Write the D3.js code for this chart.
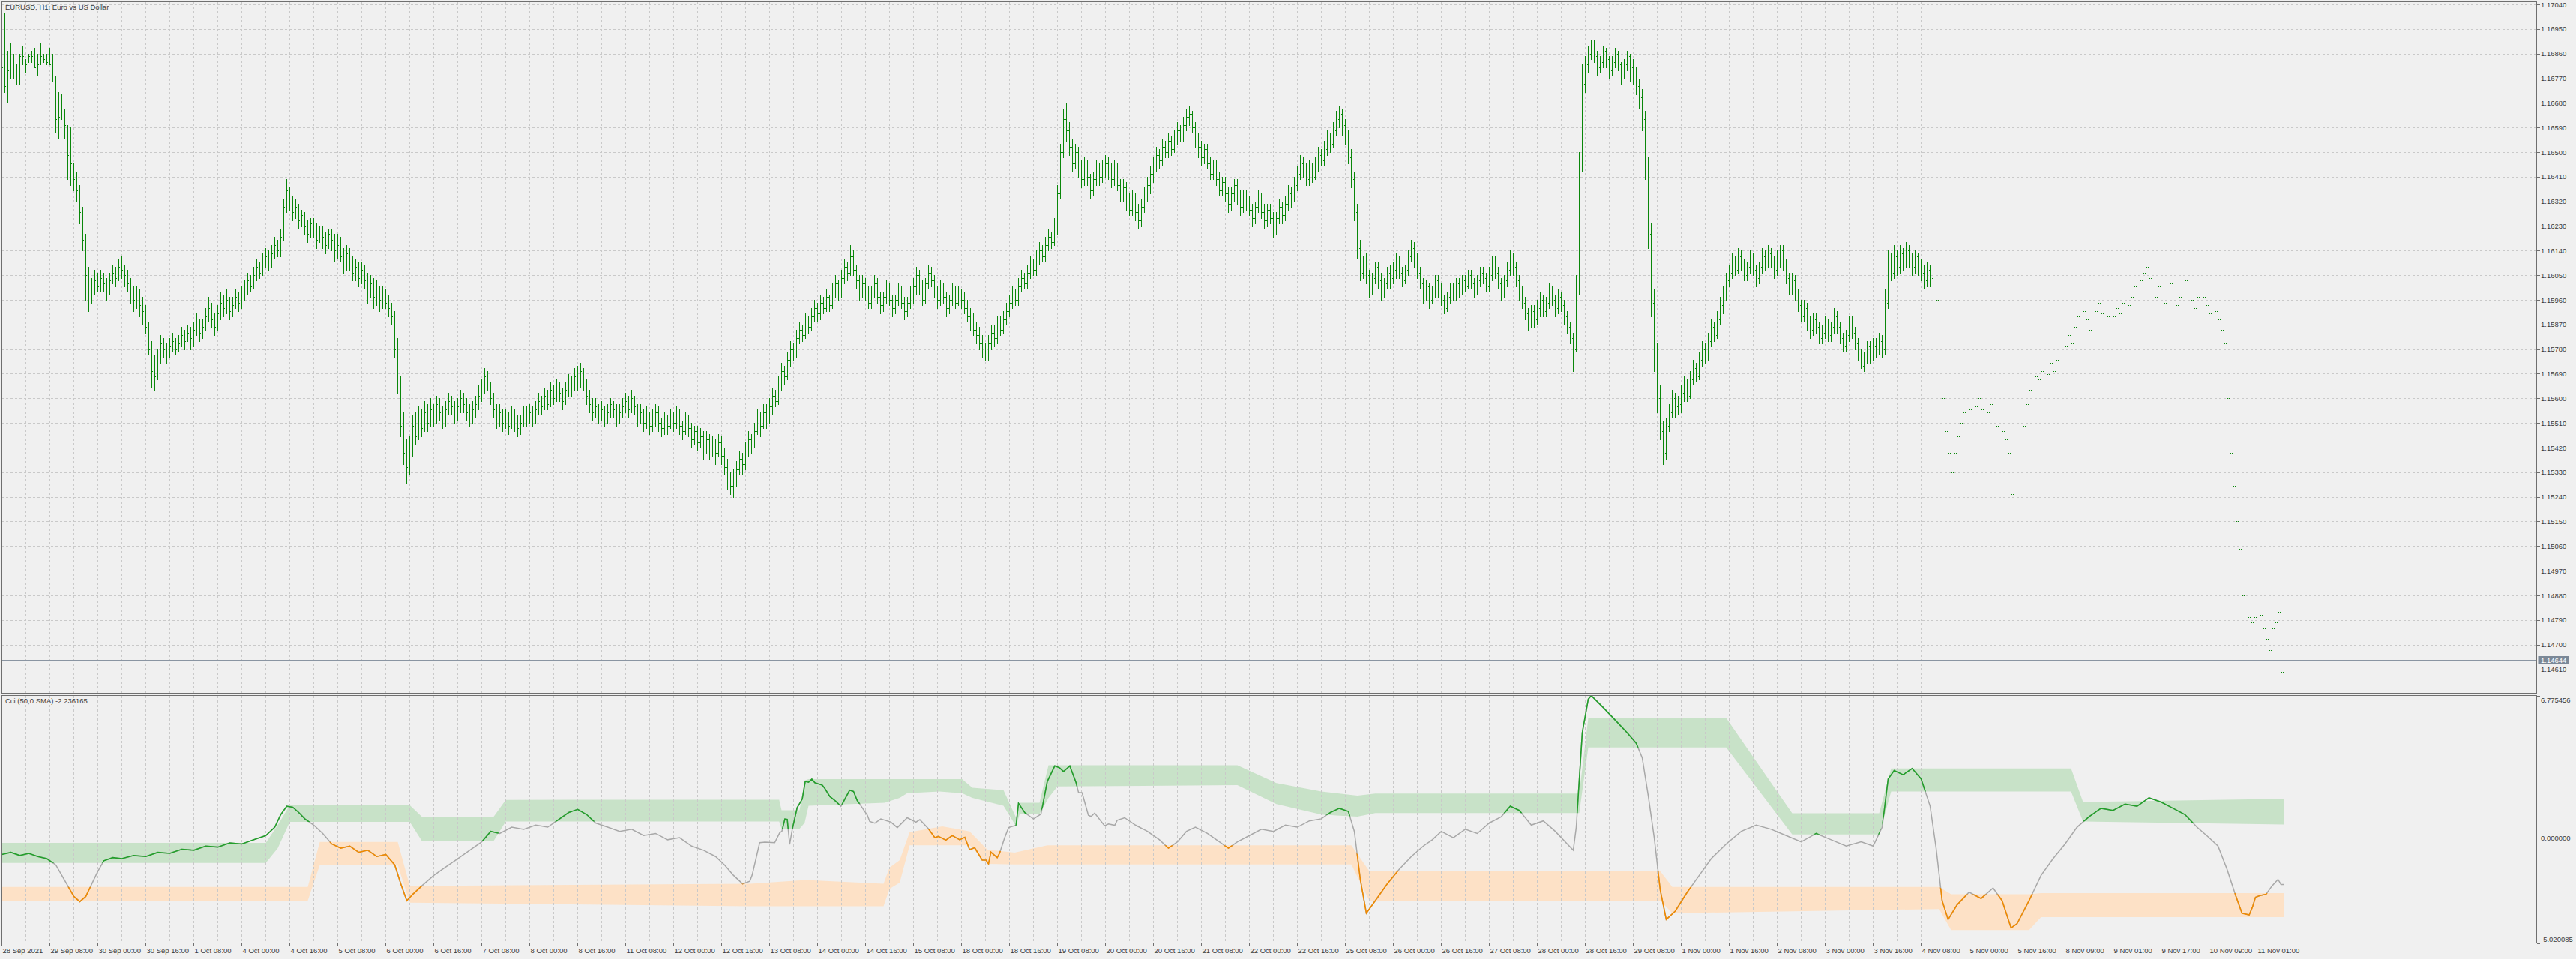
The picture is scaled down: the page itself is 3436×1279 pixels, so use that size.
<!DOCTYPE html>
<html><head><meta charset="utf-8">
<script src="https://cdn.jsdelivr.net/npm/d3@7"></script>
<style>
html,body{margin:0;padding:0;background:#f0f0f0;}
svg{display:block;}
text{font-family:"Liberation Sans",Arial,sans-serif;font-size:9.5px;fill:#3c3c3c;}
</style></head><body>
<svg id="chart" width="3436" height="1279"></svg>
<script>
const chartTitle = "EURUSD, H1:  Euro vs US Dollar";
const cciTitle = "Cci (50,0 SMA) -2.236165";
const BASE = 1.14; // prices below are in pips above 1.14000
const lastPrice = 1.14644;
const priceTicks = [1.17040,1.16950,1.16860,1.16770,1.16680,1.16590,1.16500,1.16410,1.16320,1.16230,1.16140,1.16050,1.15960,1.15870,1.15780,1.15690,1.15600,1.15510,1.15420,1.15330,1.15240,1.15150,1.15060,1.14970,1.14880,1.14790,1.14700,1.14610];
const cciTicks = [6.775456, 0, -5.020085];
const timeLabels = ["28 Sep 2021","29 Sep 08:00","30 Sep 00:00","30 Sep 16:00","1 Oct 08:00","4 Oct 00:00","4 Oct 16:00","5 Oct 08:00","6 Oct 00:00","6 Oct 16:00","7 Oct 08:00","8 Oct 00:00","8 Oct 16:00","11 Oct 08:00","12 Oct 00:00","12 Oct 16:00","13 Oct 08:00","14 Oct 00:00","14 Oct 16:00","15 Oct 08:00","18 Oct 00:00","18 Oct 16:00","19 Oct 08:00","20 Oct 00:00","20 Oct 16:00","21 Oct 08:00","22 Oct 00:00","22 Oct 16:00","25 Oct 08:00","26 Oct 00:00","26 Oct 16:00","27 Oct 08:00","28 Oct 00:00","28 Oct 16:00","29 Oct 08:00","1 Nov 00:00","1 Nov 16:00","2 Nov 08:00","3 Nov 00:00","3 Nov 16:00","4 Nov 08:00","5 Nov 00:00","5 Nov 16:00","8 Nov 09:00","9 Nov 01:00","9 Nov 17:00","10 Nov 09:00","11 Nov 01:00"];
const labelEvery = 16; // bars between time labels

const openP = [
284,281,274,280,277,279,278,285,285,282,285,285,281,282,285,284,
283,282,278,262,263,266,260,249,246,240,236,228,218,205,198,200,
203,201,204,202,199,203,206,204,208,207,205,202,199,196,198,194,
192,186,178,170,168,175,180,178,176,179,181,178,180,183,181,184,
182,185,188,184,186,190,193,189,186,191,195,193,196,192,194,197,
195,198,200,203,201,205,208,206,210,212,209,213,216,214,219,230,
236,232,228,230,225,227,223,220,224,222,218,221,219,216,220,218,
214,216,212,209,213,210,206,208,204,207,203,199,202,197,200,196,
198,195,193,190,178,165,150,140,135,142,150,146,153,149,155,151,
156,153,158,155,152,156,159,157,154,157,160,158,155,153,156,158,
161,164,168,165,160,156,152,155,151,153,150,154,152,149,151,154,
153,155,152,156,159,157,161,158,163,160,164,162,159,163,166,164,
168,166,170,165,161,158,155,157,154,156,153,155,158,156,153,155,
157,159,156,160,157,153,155,151,154,150,152,155,151,149,152,150,
153,151,154,150,148,152,149,145,148,144,146,142,145,141,143,140,
144,139,135,131,128,130,134,138,136,141,145,143,148,152,150,155,
153,157,161,159,165,170,168,174,178,176,182,185,183,188,186,190,
193,191,195,193,197,194,199,202,198,204,208,206,212,207,203,199,
202,198,195,199,202,197,194,197,200,196,193,196,199,195,192,195,
198,201,205,200,196,202,206,203,199,196,200,197,193,196,199,195,
198,196,193,190,188,185,183,180,177,176,180,184,182,187,185,189,
192,195,198,196,201,204,202,206,209,207,211,214,212,216,219,217,
222,235,250,262,258,252,246,250,244,240,245,241,236,240,244,241,
243,246,243,240,244,238,234,237,232,229,233,228,225,230,234,238,
242,245,249,247,252,250,254,251,255,258,256,260,263,264,259,255,
252,248,251,246,242,245,240,236,239,235,231,235,238,233,230,234,
232,229,226,230,233,228,225,229,226,222,226,230,227,231,235,233,
238,242,246,243,240,244,241,245,249,247,251,255,253,258,262,264,
260,255,248,240,228,215,206,210,205,200,204,208,203,199,202,206,
204,207,210,206,203,207,212,215,211,206,202,198,201,196,199,203,
200,196,193,197,200,198,202,199,203,201,205,202,199,203,206,204,
201,205,209,206,202,198,203,207,211,208,203,199,195,191,188,192,
189,193,196,192,195,199,196,193,197,194,190,186,182,178,200,245,
275,282,286,289,285,281,283,287,284,280,283,286,282,279,282,285,
281,278,274,270,262,245,220,195,175,160,148,140,150,155,160,157,
158,162,165,161,167,171,168,174,178,175,181,186,183,189,194,198,
203,206,210,207,212,209,205,208,211,207,204,208,212,209,213,210,
207,211,214,209,204,200,203,198,194,190,193,188,185,189,186,182,
184,187,183,186,190,186,182,179,183,187,184,180,176,172,175,179,
176,179,177,181,178,195,210,206,212,208,213,210,214,211,208,212,
209,206,203,207,204,200,196,175,160,148,140,133,140,146,151,155,
153,156,153,157,160,156,152,155,158,154,150,153,148,145,140,125,
118,130,142,150,158,163,166,168,167,170,166,169,173,170,174,177,
175,179,183,180,186,190,187,192,189,185,188,192,195,191,188,190,
187,190,193,191,195,198,194,197,201,199,203,206,208,204,200,197,
201,198,195,199,202,198,194,197,200,203,199,196,193,197,200,197,
194,191,188,192,189,185,180,160,140,128,115,105,88,85,80,78,
80,84,81,76,72,68,76,78,82,60];
const highP = [
290,301,287,290,286,282,286,289,284,286,287,288,286,290,286,286,
288,286,278,272,271,266,260,259,246,243,238,230,220,208,204,207,
206,207,206,204,206,209,208,211,212,209,207,204,201,201,200,197,
194,188,181,176,178,183,182,180,182,184,182,183,186,185,187,186,
188,191,189,189,193,197,195,191,194,199,198,200,197,197,200,199,
201,203,206,205,208,211,210,213,215,214,216,219,218,222,233,240,
237,234,233,231,229,228,225,226,226,224,223,223,221,222,222,220,
220,219,215,216,215,212,211,210,210,209,206,205,204,203,201,201,
200,198,195,192,182,168,155,145,146,154,155,157,156,159,158,160,
158,161,160,157,159,162,161,159,160,163,162,160,158,159,161,165,
167,171,170,166,162,158,158,156,156,155,157,156,154,154,157,157,
158,157,159,162,161,164,163,166,165,167,166,164,166,169,168,171,
172,173,171,167,163,160,160,158,159,157,158,160,159,158,158,160,
162,161,163,161,158,158,156,157,155,156,158,157,153,155,154,156,
155,157,156,152,155,154,151,150,150,149,148,148,147,146,145,147,
146,142,138,133,134,137,141,140,144,148,147,151,156,155,158,158,
160,164,163,168,173,172,177,181,180,185,188,187,191,190,193,196,
195,198,197,200,198,202,205,203,207,211,210,216,214,209,205,205,
204,201,201,205,204,199,199,203,202,198,198,202,201,197,197,201,
204,208,207,203,204,209,208,205,201,203,202,199,198,202,201,201,
200,199,196,193,191,188,186,183,180,183,187,187,190,190,192,195,
198,201,200,204,207,206,209,212,211,214,217,216,219,222,221,226,
238,253,266,268,261,255,253,252,247,248,247,242,243,247,246,247,
249,248,246,247,246,240,240,239,235,236,235,231,233,237,241,245,
248,252,251,255,254,257,256,258,261,260,263,266,267,265,261,257,
254,253,253,248,247,247,243,241,241,237,237,240,240,236,236,236,
234,231,232,236,235,231,231,231,228,228,233,232,234,238,237,241,
245,249,248,246,247,246,248,252,251,254,258,257,261,265,267,266,
262,258,251,243,231,218,212,213,207,206,210,210,206,204,208,209,
210,213,212,208,209,214,218,217,213,208,204,203,202,201,205,205,
202,198,199,202,202,204,204,205,205,207,207,204,205,208,208,206,
208,212,212,208,204,205,210,214,213,210,205,201,197,193,194,194,
196,199,198,197,202,201,198,200,199,196,192,188,184,205,250,282,
285,289,291,291,287,285,289,288,285,285,288,287,283,284,287,286,
284,281,277,273,265,248,224,200,180,165,152,153,158,163,162,161,
165,168,167,170,174,173,177,181,180,184,189,188,192,197,201,206,
209,213,212,215,214,211,210,214,213,209,210,215,214,216,215,212,
214,216,216,211,206,206,205,200,196,196,195,190,191,191,188,187,
190,189,188,193,192,188,184,185,190,190,186,182,178,177,181,181,
182,182,184,183,200,214,213,216,214,216,215,217,216,213,214,213,
211,209,210,209,206,202,198,180,163,152,143,143,149,154,158,158,
159,158,159,163,162,158,158,161,160,156,155,155,150,147,142,128,
133,146,153,161,166,169,171,170,173,172,171,176,175,177,180,179,
182,186,186,189,193,192,195,194,191,190,195,198,197,193,193,192,
193,196,195,198,201,200,199,204,203,206,209,211,210,206,202,204,
204,201,200,205,204,200,199,203,206,205,201,198,199,203,202,199,
196,194,194,194,192,187,182,162,143,132,118,108,90,88,81,82,
88,86,84,85,79,80,80,85,83,64.5];
const lowP = [
280,272,268,277,277,275,275,282,279,283,283,281,278,282,283,282,
282,276,257,255,262,255,240,238,236,232,224,214,196,192,195,198,
199,199,199,196,198,202,201,203,204,201,199,195,192,193,190,187,
184,176,164,163,167,173,175,173,175,177,176,177,179,178,181,178,
179,183,181,182,185,188,186,183,185,189,190,191,189,190,193,192,
193,196,198,199,200,203,204,205,208,207,208,211,212,212,218,228,
229,225,226,222,223,220,217,219,219,215,217,215,213,215,214,210,
211,210,206,207,207,203,203,201,202,200,195,197,193,194,192,193,
193,190,187,175,162,146,136,129,132,139,143,145,146,148,148,150,
150,151,152,149,150,154,154,151,152,155,155,152,150,151,153,156,
159,162,163,158,153,149,150,148,149,147,149,148,146,147,150,150,
151,150,151,154,154,156,156,157,158,159,159,156,158,161,161,163,
163,164,163,158,155,152,153,151,152,150,151,153,153,150,151,153,
155,153,155,154,150,151,148,149,147,148,150,148,146,147,147,149,
148,149,147,145,147,146,142,143,141,142,138,140,138,139,136,139,
136,132,127,125,124,128,132,132,134,139,140,142,147,146,149,149,
151,154,157,158,163,165,167,172,174,175,180,181,182,184,185,188,
188,189,191,192,192,193,197,196,197,202,203,205,205,200,196,197,
196,193,193,197,195,191,192,195,194,190,191,194,193,189,190,193,
195,198,198,194,195,200,201,197,193,194,195,190,191,194,193,194,
193,191,188,185,183,180,178,175,174,174,178,179,180,183,184,187,
190,193,194,194,199,200,200,204,205,205,209,210,210,214,215,216,
220,233,248,254,249,243,244,241,237,238,238,233,234,238,238,239,
241,240,237,238,236,232,232,229,227,227,225,222,223,228,232,235,
239,243,244,245,248,248,249,250,253,254,254,258,260,257,252,248,
245,246,244,240,240,238,234,234,232,228,229,232,231,227,228,229,
227,223,224,228,226,222,223,224,219,220,224,224,225,229,230,232,
236,240,241,238,238,239,240,243,245,245,249,250,252,256,259,256,
253,246,237,225,211,203,204,202,197,198,202,200,196,197,200,200,
202,204,204,201,202,205,210,208,204,200,195,196,193,195,197,197,
194,191,192,195,196,196,197,198,199,200,200,197,198,201,202,199,
199,203,204,200,196,197,201,205,205,201,196,193,189,185,186,186,
187,190,190,190,193,194,190,191,192,187,184,180,170,177,198,243,
272,279,284,283,278,279,281,281,277,278,281,280,275,277,280,276,
275,271,266,258,240,215,190,170,155,145,136,138,148,153,153,154,
155,159,159,160,165,166,167,172,173,174,179,181,182,187,191,196,
201,204,205,206,207,203,203,206,205,201,202,206,207,208,208,204,
205,208,207,202,198,198,196,192,188,188,185,182,183,184,180,180,
182,181,181,184,184,180,177,177,181,182,178,174,171,170,173,173,
174,175,176,175,176,193,203,204,205,206,207,208,208,205,206,205,
203,200,201,201,197,192,172,155,144,135,129,130,138,144,150,149,
150,151,151,155,154,149,150,153,152,147,148,146,142,137,121,113,
115,127,139,147,155,160,163,164,164,164,164,167,168,168,172,172,
172,176,178,179,184,185,186,187,183,183,186,190,189,185,186,184,
185,188,189,190,193,192,192,196,197,198,201,204,202,197,194,195,
196,193,193,196,196,191,192,194,197,197,193,190,191,195,194,191,
189,186,186,187,183,178,158,137,125,112,102,82,83,77,76,76,
78,79,73,68,64,70,75,77,60,54];
const closeP = [
281,274,280,277,279,278,285,285,282,285,285,281,282,285,284,283,
282,278,262,263,266,260,249,246,240,236,228,218,205,198,200,203,
201,204,202,199,203,206,204,208,207,205,202,199,196,198,194,192,
186,178,170,168,175,180,178,176,179,181,178,180,183,181,184,182,
185,188,184,186,190,193,189,186,191,195,193,196,192,194,197,195,
198,200,203,201,205,208,206,210,212,209,213,216,214,219,230,236,
232,228,230,225,227,223,220,224,222,218,221,219,216,220,218,214,
216,212,209,213,210,206,208,204,207,203,199,202,197,200,196,198,
195,193,190,178,165,150,140,135,142,150,146,153,149,155,151,156,
153,158,155,152,156,159,157,154,157,160,158,155,153,156,158,161,
164,168,165,160,156,152,155,151,153,150,154,152,149,151,154,153,
155,152,156,159,157,161,158,163,160,164,162,159,163,166,164,168,
166,170,165,161,158,155,157,154,156,153,155,158,156,153,155,157,
159,156,160,157,153,155,151,154,150,152,155,151,149,152,150,153,
151,154,150,148,152,149,145,148,144,146,142,145,141,143,140,144,
139,135,131,128,130,134,138,136,141,145,143,148,152,150,155,153,
157,161,159,165,170,168,174,178,176,182,185,183,188,186,190,193,
191,195,193,197,194,199,202,198,204,208,206,212,207,203,199,202,
198,195,199,202,197,194,197,200,196,193,196,199,195,192,195,198,
201,205,200,196,202,206,203,199,196,200,197,193,196,199,195,198,
196,193,190,188,185,183,180,177,176,180,184,182,187,185,189,192,
195,198,196,201,204,202,206,209,207,211,214,212,216,219,217,222,
235,250,262,258,252,246,250,244,240,245,241,236,240,244,241,243,
246,243,240,244,238,234,237,232,229,233,228,225,230,234,238,242,
245,249,247,252,250,254,251,255,258,256,260,263,264,259,255,252,
248,251,246,242,245,240,236,239,235,231,235,238,233,230,234,232,
229,226,230,233,228,225,229,226,222,226,230,227,231,235,233,238,
242,246,243,240,244,241,245,249,247,251,255,253,258,262,264,260,
255,248,240,228,215,206,210,205,200,204,208,203,199,202,206,204,
207,210,206,203,207,212,215,211,206,202,198,201,196,199,203,200,
196,193,197,200,198,202,199,203,201,205,202,199,203,206,204,201,
205,209,206,202,198,203,207,211,208,203,199,195,191,188,192,189,
193,196,192,195,199,196,193,197,194,190,186,182,178,200,245,275,
282,286,289,285,281,283,287,284,280,283,286,282,279,282,285,281,
278,274,270,262,245,220,195,175,160,148,140,150,155,160,157,158,
162,165,161,167,171,168,174,178,175,181,186,183,189,194,198,203,
206,210,207,212,209,205,208,211,207,204,208,212,209,213,210,207,
211,214,209,204,200,203,198,194,190,193,188,185,189,186,182,184,
187,183,186,190,186,182,179,183,187,184,180,176,172,175,179,176,
179,177,181,178,195,210,206,212,208,213,210,214,211,208,212,209,
206,203,207,204,200,196,175,160,148,140,133,140,146,151,155,153,
156,153,157,160,156,152,155,158,154,150,153,148,145,140,125,118,
130,142,150,158,163,166,168,167,170,166,169,173,170,174,177,175,
179,183,180,186,190,187,192,189,185,188,192,195,191,188,190,187,
190,193,191,195,198,194,197,201,199,203,206,208,204,200,197,201,
198,195,199,202,198,194,197,200,203,199,196,193,197,200,197,194,
191,188,192,189,185,180,160,140,128,115,105,88,85,80,78,80,
84,81,76,72,68,76,78,82,60,64.4];

// CCI line: [bar index, value]
const cciLine = [
[0,-0.8],[3,-0.7],[6,-0.85],[9,-0.75],[12,-0.9],[15,-1.0],[18,-1.3],[20,-1.8],[22,-2.3],[24,-2.8],[26,-3.05],[28,-2.8],[30,-2.2],[32,-1.6],[34,-1.1],[37,-0.95],[40,-1.0],[44,-0.85],[48,-0.9],[52,-0.7],[56,-0.75],[60,-0.55],[64,-0.6],[68,-0.4],[72,-0.45],[76,-0.25],[80,-0.3],[84,-0.1],[88,0.1],[91,0.5],[93,1.1],[95,1.5],[97,1.45],[99,1.2],[101,0.9],[104,0.6],[107,0.2],[110,-0.3],[113,-0.5],[116,-0.4],[119,-0.7],[122,-0.6],[125,-0.9],[128,-0.8],[131,-1.3],[133,-2.2],[135,-3.0],[137,-2.7],[140,-2.3],[144,-1.8],[148,-1.4],[152,-1.0],[156,-0.6],[160,-0.2],[163,0.3],[166,0.2],[170,0.5],[174,0.4],[178,0.6],[182,0.5],[186,0.9],[189,1.2],[192,1.35],[195,1.1],[198,0.7],[202,0.5],[206,0.3],[210,0.4],[214,0.1],[218,0.2],[222,-0.1],[226,0.0],[230,-0.4],[234,-0.6],[238,-0.9],[241,-1.3],[244,-1.8],[247,-2.2],
[249.4,-2.08],[250.2,-1.78],[252.7,-0.24],[254.4,-0.21],[257.7,-0.24],[259.4,0.24],[260.1,0.30],[261.1,0.89],[261.9,0.87],[262.7,-0.32],[263.6,0.42],[265.2,1.43],[266.9,1.84],[267.9,2.68],[269,2.64],[270.1,2.79],[271.1,2.62],[273.6,2.50],[274.4,2.35],[276.1,1.96],[278.2,1.72],[279.8,1.49],[282.7,2.26],[284,2.20],[285.2,1.78],[288.6,1.07],[289.4,0.77],[291.1,0.69],[293.1,0.89],[296.5,0.74],[298.6,0.48],[301.9,0.95],[304.8,0.74],[306.1,0.86],[309,0.42],[311.1,0],[312.3,0.06],[314.8,-0.12],[316.9,0.10],[319.4,-0.10],[321.1,0.02],[322.7,-0.57],[324.4,-0.48],[326.9,-1.07],[328.2,-1.07],[329,-1.25],[329.8,-0.69],[331.9,-0.95],[332.7,-0.74],[334.4,0],[335.7,0.48],[338.2,0.59],[339,1.64],[341.1,1.19],[344,0.89],[346.5,1.13],[348.6,2.68],[351.1,3.42],[352.7,3.33],[354,3.15],[356.1,3.42],[358.2,2.62],[359,2.16],[360.2,2.14],[362.3,1.07],[363.2,1.01],[364.4,1.17],[367.7,0.57],[369,0.65],[371.1,0.59],[371.9,0.83],[374.4,0.95],
[378,0.6],[382,0.3],[386,-0.1],[389,-0.5],[392,-0.2],[395,0.3],[398,0.5],[402,0.2],[406,-0.2],[409,-0.5],[412,-0.2],[416,0.1],[420,0.4],[424,0.3],[428,0.6],[432,0.5],[436,0.8],[440,0.9],[443,1.2],[446,1.4],[449,1.25],[451,0.3],[453,-2.0],[455,-3.6],[458,-3.0],[462,-2.2],[466,-1.5],[470,-0.9],[474,-0.4],[477,-0.1],[480,0.3],[484,0.0],[488,0.4],[492,0.2],[496,0.7],[500,1.0],[503,1.5],[506,1.3],[510,0.6],[514,0.8],[518,0.3],[522,-0.3],[524,-0.6],[525,0.5],[527,5.0],[529,6.6],[530,6.77],[534,6.2],[538,5.6],[542,5.0],[545,4.5],[547,3.8],[549,2.0],[551,0.0],[553,-2.5],[555,-3.9],[558,-3.5],[562,-2.6],[566,-1.8],[570,-1.0],[575,-0.3],[580,0.3],[585,0.6],[590,0.4],[595,0.1],[600,-0.2],[605,0.2],[610,-0.1],[615,-0.4],[620,-0.2],[624,-0.4],[627,0.5],[629,2.8],[631,3.2],[634,3.0],[637,3.3],[640,2.8],[643,1.5],[645,-0.5],[647,-3.0],[649,-3.9],[652,-3.2],[656,-2.6],[660,-2.9],[664,-2.4],[667,-3.0],[670,-4.3],[672,-4.1],[676,-3.0],[680,-1.8],[684,-1.0],[688,-0.3],[692,0.5],[696,1.0],[700,1.4],[704,1.3],[708,1.6],[712,1.5],[716,1.9],[720,1.7],[724,1.4],[728,1.1],[732,0.5],[736,0.0],[739,-0.4],[742,-1.5],[745,-2.8],[747,-3.6],[749.4,-3.68],[750.5,-3.3],[751.5,-2.84],[753,-2.76],[755,-2.7],[757,-2.3],[759,-1.99],[760,-2.23],[761,-2.236]];
// bands: [bar index, top value, bottom value]
const upperBand = [[0,-0.25,-1.2],[88,-0.25,-1.2],[92,0.6,-0.5],[96,1.55,0.75],[136,1.55,0.75],[140,1.0,-0.15],[164,1.0,-0.15],[168,1.8,0.77],[249.4,1.81,0.77],[259.2,1.81,0.77],[260,1.31,0.42],[266,1.31,0.42],[267.7,2.73,0.71],[269,2.79,1.52],[294.4,2.79,1.66],[299.4,2.79,1.9],[301.9,2.79,2.12],[312.7,2.79,2.2],[320.2,2.79,2.12],[323.6,2.38,1.9],[334,2.26,1.52],[338.2,0.95,0.54],[339.4,1.66,1.13],[346,1.66,1.13],[349,3.45,1.9],[352,3.45,2.44],[412,3.45,2.5],[425,2.6,1.6],[440,2.2,1.1],[452,2.0,1.0],[458,2.1,1.17],[526,2.1,1.17],[529,5.7,4.3],[575,5.7,4.3],[597,1.16,0.15],[626,1.16,0.15],[630,3.3,2.2],[690,3.3,2.2],[694,1.7,0.77],[761,1.85,0.63]];
const lowerBand = [[0,-2.35,-3.0],[102,-2.35,-3.0],[106,-0.2,-1.3],[132,-0.2,-1.3],[136,-2.3,-3.1],[249.4,-2.2,-3.27],[268,-2.02,-3.27],[294,-2.2,-3.27],[296,-1.43,-2.44],[299.4,-1.07,-2.14],[302.7,0.26,-0.36],[313.6,0.54,-0.36],[322.7,0.3,-0.36],[328.6,-0.57,-1.25],[337.7,-0.71,-1.28],[348.6,-0.36,-1.28],[450,-0.36,-1.28],[456,-1.6,-3.0],[553,-1.6,-3.0],[557,-2.35,-3.6],[646,-2.35,-3.4],[650,-2.7,-4.4],[676,-2.7,-4.4],[680,-2.64,-3.79],[761,-2.64,-3.79]];

// ---------------- drawing ----------------
const W = 3436, H = 1279;
const L = 2, R = 3383.5, T = 2.5, MB = 924.5, IT = 927.5, IB = 1257.5;
const N = closeP.length;
const svg = d3.select('#chart');
svg.append('rect').attr('width', W).attr('height', H).attr('fill', '#f0f0f0');

const x = d3.scaleLinear().domain([0, N - 1]).range([2.5, 2.5 + 4 * (N - 1)]);
const yP = d3.scaleLinear().domain([1.14610, 1.17040]).range([892.5, 6]);
const yC = d3.scaleLinear().domain([-5.020085, 6.775456]).range([IB, IT]);
const pr = p => BASE + p / 10000;
const snap = v => Math.round(v) + 0.5;

const defs = svg.append('defs');
defs.append('clipPath').attr('id', 'mainClip').append('rect').attr('x', L).attr('y', T).attr('width', R - L).attr('height', MB - T);
defs.append('clipPath').attr('id', 'indClip').append('rect').attr('x', L).attr('y', IT).attr('width', R - L).attr('height', IB - IT);

const gridStyle = s => s.attr('stroke', '#c9c9c9').attr('stroke-width', 1).attr('stroke-dasharray', '3,3').attr('shape-rendering', 'crispEdges');

// indicator bands (under grid)
const ind = svg.append('g').attr('clip-path', 'url(#indClip)');
const bandArea = d3.area().x(d => x(d[0])).y0(d => yC(d[2])).y1(d => yC(d[1]));
ind.append('path').attr('d', bandArea(upperBand)).attr('fill', '#c8e2c8');
ind.append('path').attr('d', bandArea(lowerBand)).attr('fill', '#fde1c6');

// grid
const grid = svg.append('g');
const vBars = d3.range(8, 900, 8).filter(b => x(b) < R - 1);
grid.selectAll('line.vm').data(vBars).join('line').attr('x1', d => x(d)).attr('x2', d => x(d)).attr('y1', T).attr('y2', MB).call(gridStyle);
grid.selectAll('line.vi').data(vBars).join('line').attr('x1', d => x(d)).attr('x2', d => x(d)).attr('y1', IT).attr('y2', IB).call(gridStyle);
grid.selectAll('line.hm').data(priceTicks).join('line').attr('x1', L).attr('x2', R).attr('y1', d => snap(yP(d))).attr('y2', d => snap(yP(d))).call(gridStyle);
grid.append('line').attr('x1', L).attr('x2', R).attr('y1', snap(yC(0))).attr('y2', snap(yC(0))).call(gridStyle);

// price bars
let dPath = '';
for (let k = 0; k < N; k++) {
  const cx = x(k);
  const yh = Math.round(yP(pr(highP[k]))), yl = Math.round(yP(pr(lowP[k])));
  const yo = snap(yP(pr(openP[k]))), yc = snap(yP(pr(closeP[k])));
  dPath += `M${cx},${yh}V${yl + 1}M${cx - 1.5},${yo}H${cx - 0.5}M${cx + 0.5},${yc}H${cx + 1.5}`;
}
svg.append('g').attr('clip-path', 'url(#mainClip)').append('path').attr('d', dPath)
  .attr('stroke', '#0a870a').attr('stroke-width', 1).attr('fill', 'none').attr('shape-rendering', 'crispEdges');

// last price line
const yLast = snap(yP(lastPrice));
svg.append('line').attr('x1', L).attr('x2', R).attr('y1', yLast).attr('y2', yLast).attr('stroke', '#8a95a2').attr('stroke-width', 1).attr('shape-rendering', 'crispEdges');

// CCI line coloured by band
const cciGen = d3.line().x(d => x(d[0])).y(d => yC(d[1]));
const upClip = d3.area().x(d => x(d[0])).y0(IT - 5).y1(d => yC(d[2]));
const dnClip = d3.area().x(d => x(d[0])).y0(IB + 5).y1(d => yC(d[1]));
defs.append('clipPath').attr('id', 'upC').append('path').attr('d', upClip(upperBand));
defs.append('clipPath').attr('id', 'dnC').append('path').attr('d', dnClip(lowerBand));
const lineG = svg.append('g').attr('clip-path', 'url(#indClip)');
lineG.append('path').attr('d', cciGen(cciLine)).attr('fill', 'none').attr('stroke', '#a8a8a8').attr('stroke-width', 1.5);
lineG.append('g').attr('clip-path', 'url(#upC)').append('path').attr('d', cciGen(cciLine)).attr('fill', 'none').attr('stroke', '#22a02a').attr('stroke-width', 1.6);
lineG.append('g').attr('clip-path', 'url(#dnC)').append('path').attr('d', cciGen(cciLine)).attr('fill', 'none').attr('stroke', '#f08a00').attr('stroke-width', 1.6);

// frames
const frame = svg.append('g').attr('fill', 'none').attr('stroke', '#6f6f6f').attr('stroke-width', 1).attr('shape-rendering', 'crispEdges');
frame.append('rect').attr('x', L + 0.5).attr('y', T).attr('width', R - L - 0.5).attr('height', MB - T);
frame.append('rect').attr('x', L + 0.5).attr('y', IT).attr('width', R - L - 0.5).attr('height', IB - IT);

// right price axis
const ax = svg.append('g');
ax.selectAll('line.pt').data(priceTicks).join('line').attr('x1', R).attr('x2', R + 4).attr('y1', d => snap(yP(d))).attr('y2', d => snap(yP(d))).attr('stroke', '#6f6f6f').attr('shape-rendering', 'crispEdges');
ax.selectAll('text.pt').data(priceTicks).join('text').attr('x', R + 5.5).attr('y', d => yP(d) + 3.5).text(d => d.toFixed(5));
// last price box
ax.append('rect').attr('x', R + 2).attr('y', yLast - 5.5).attr('width', 41).attr('height', 11).attr('fill', '#7b8897');
ax.append('text').attr('x', R + 5.5).attr('y', yLast + 3.5).text(lastPrice.toFixed(5)).style('fill', '#ffffff');

// indicator axis
ax.selectAll('line.ct').data(cciTicks).join('line').attr('x1', R).attr('x2', R + 4).attr('y1', d => snap(yC(d))).attr('y2', d => snap(yC(d))).attr('stroke', '#6f6f6f').attr('shape-rendering', 'crispEdges');
ax.selectAll('text.ct').data(cciTicks).join('text').attr('x', R + 5.5)
  .attr('y', d => Math.min(Math.max(yC(d), IT + 6), IB - 5) + 3.5).text(d => d.toFixed(6));

// time axis
const tx = svg.append('g');
tx.selectAll('line').data(timeLabels).join('line').attr('x1', (d, i) => x(i * labelEvery)).attr('x2', (d, i) => x(i * labelEvery))
  .attr('y1', IB).attr('y2', IB + 4.5).attr('stroke', '#6f6f6f').attr('shape-rendering', 'crispEdges');
tx.selectAll('text').data(timeLabels).join('text').attr('x', (d, i) => x(i * labelEvery) + 1).attr('y', 1271).text(d => d);

// titles
svg.append('text').attr('x', 7).attr('y', 13).text(chartTitle);
svg.append('text').attr('x', 7).attr('y', 938).text(cciTitle);

if (openP.length !== N || highP.length !== N || lowP.length !== N || N !== 762) {
  svg.append('text').attr('x', 400).attr('y', 400).style('font-size', '40px').style('fill', 'red')
    .text(`len mismatch o${openP.length} h${highP.length} l${lowP.length} c${N}`);
}
</script>
</body></html>
